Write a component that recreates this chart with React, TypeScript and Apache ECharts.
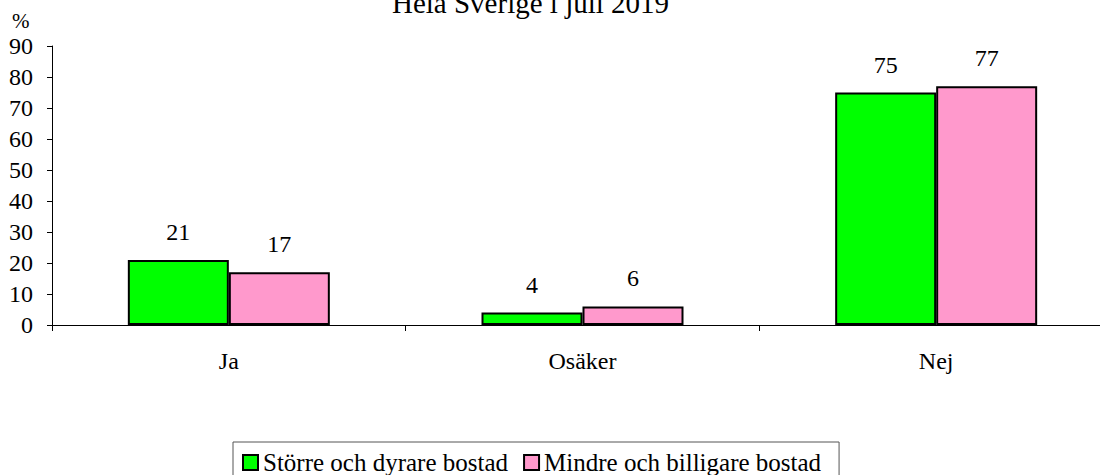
import React, { useEffect, useRef } from "react";
import * as echarts from "echarts";

const categories = ["Ja", "Osäker", "Nej"];
const seriesNames = ["Större och dyrare bostad", "Mindre och billigare bostad"];
const largerValues = [21, 4, 75];
const smallerValues = [17, 6, 77];
const yTicks = { min: 0, max: 90, interval: 10 };
const titleText = "Hela Sverige i juli 2019";
const unitText = "%";

const FONT = "Liberation Serif";

export default function App() {
  const ref = useRef<HTMLDivElement>(null);
  useEffect(() => {
    if (!ref.current) return;
    const chart = echarts.init(ref.current, null, { renderer: "svg" });
    const labelStyle = {
      show: true,
      position: "top",
      distance: 16,
      color: "#000",
      fontFamily: FONT,
      fontSize: 24,
    };
    chart.setOption({
      animation: false,
      backgroundColor: "#fff",
      textStyle: { fontFamily: FONT, color: "#000" },
      graphic: [
        {
          type: "text",
          left: 392,
          top: -12,
          style: { text: titleText, fontFamily: FONT, fontSize: 29, fill: "#000" },
        },
        {
          type: "text",
          left: 12,
          top: 10,
          style: { text: unitText, fontFamily: FONT, fontSize: 21, fill: "#000" },
        },
      ],
      legend: {
        left: 233,
        top: 442,
        orient: "horizontal",
        itemWidth: 15,
        itemHeight: 15,
        itemGap: 15,
        padding: [8, 18, 8, 9],
        borderColor: "#555",
        borderWidth: 1,
        icon: "rect",
        textStyle: { fontFamily: FONT, fontSize: 25, color: "#000" },
        data: seriesNames,
      },
      grid: { left: 52, right: 17, top: 46, bottom: 150, containLabel: false },
      xAxis: {
        type: "category",
        data: categories,
        axisLine: { lineStyle: { color: "#000", width: 1 } },
        axisTick: { show: true, length: 6, lineStyle: { color: "#000" } },
        axisLabel: { margin: 24, fontFamily: FONT, fontSize: 24, color: "#000" },
      },
      yAxis: {
        type: "value",
        min: yTicks.min,
        max: yTicks.max,
        interval: yTicks.interval,
        splitLine: { show: false },
        axisLine: { show: true, lineStyle: { color: "#000", width: 1 } },
        axisTick: { show: true, length: 5, lineStyle: { color: "#000" } },
        axisLabel: { margin: 19, fontFamily: FONT, fontSize: 24, color: "#000" },
      },
      series: [
        {
          name: seriesNames[0],
          type: "bar",
          data: largerValues,
          barWidth: 101,
          barGap: "0%",
          itemStyle: { color: "#00FF00", borderColor: "#000", borderWidth: 2 },
          label: labelStyle,
        },
        {
          name: seriesNames[1],
          type: "bar",
          data: smallerValues,
          barWidth: 101,
          barGap: "0%",
          itemStyle: { color: "#FF99CC", borderColor: "#000", borderWidth: 2 },
          label: labelStyle,
        },
      ],
    });
    return () => chart.dispose();
  }, []);
  return (
    <div
      ref={ref}
      style={{ position: "fixed", left: 0, top: 0, width: 1130, height: 475 }}
    />
  );
}
